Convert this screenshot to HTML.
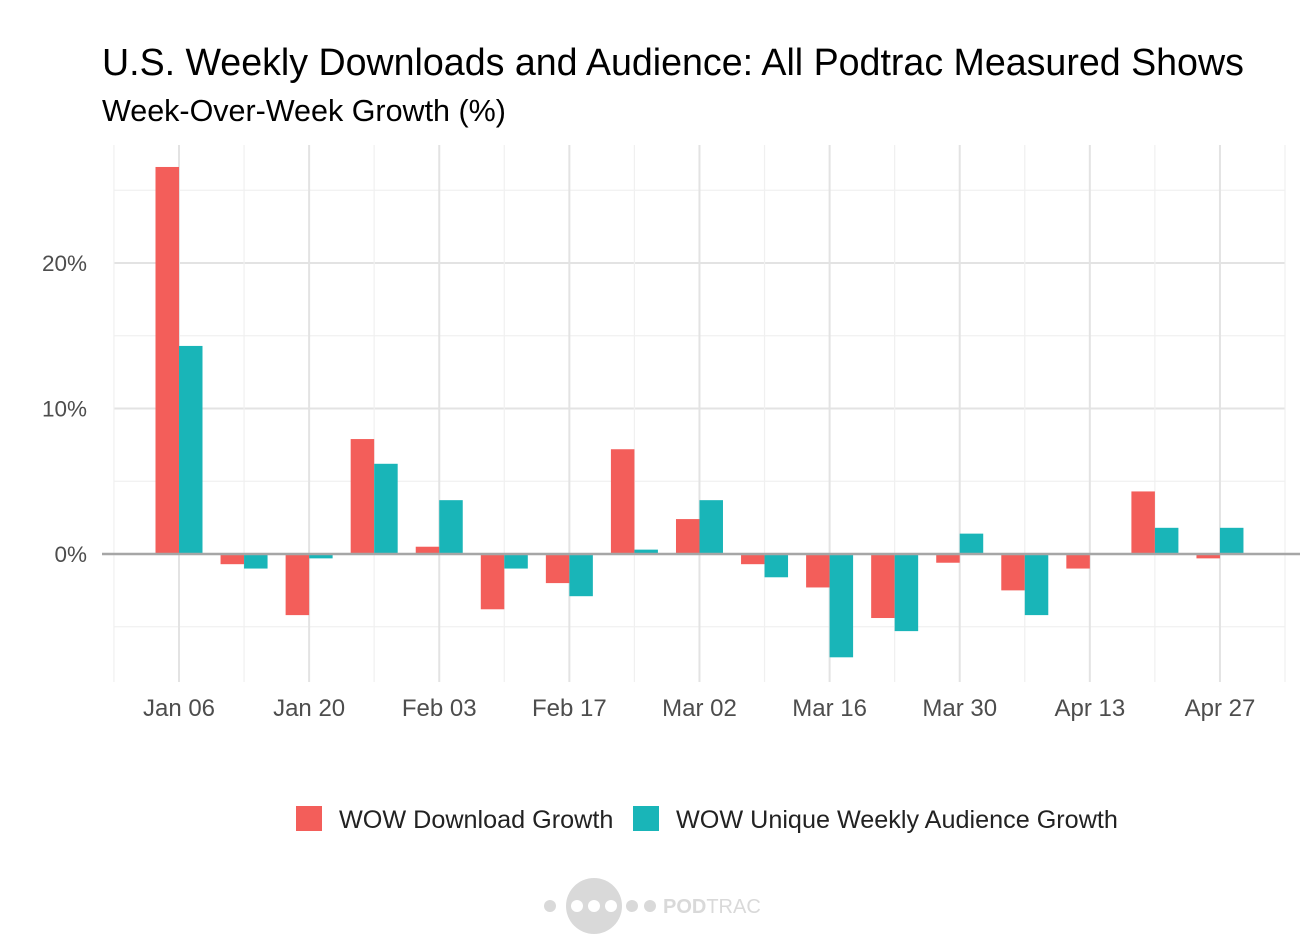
<!DOCTYPE html>
<html><head><meta charset="utf-8"><style>
body{margin:0;background:#fff;width:1300px;height:944px;overflow:hidden;font-family:"Liberation Sans",sans-serif}
</style></head><body>
<svg id="c" width="1300" height="944">
<text x="102" y="75" font-size="37.6" fill="#000">U.S. Weekly Downloads and Audience: All Podtrac Measured Shows</text>
<text x="102" y="121" font-size="30.5" fill="#000">Week-Over-Week Growth (%)</text>
<g id="grid"></g><g id="bars"></g><g id="axes"></g>
<g>
<rect x="296" y="806" width="26" height="25" fill="#f35e5a"/>
<text x="339" y="828" font-size="25.2" fill="#222">WOW Download Growth</text>
<rect x="633" y="806" width="26" height="25" fill="#19b5b8"/>
<text x="676" y="828" font-size="25.2" fill="#222">WOW Unique Weekly Audience Growth</text>
</g>
<g fill="#d9d9d9">
<circle cx="550" cy="906" r="6"/><circle cx="594" cy="906" r="28"/>
<circle cx="577" cy="906" r="6" fill="#fff"/><circle cx="594" cy="906" r="6" fill="#fff"/><circle cx="611" cy="906" r="6" fill="#fff"/>
<circle cx="632" cy="906" r="6"/><circle cx="650" cy="906" r="6"/>
<text x="663" y="913" font-size="20" font-weight="bold">POD<tspan font-weight="normal">TRAC</tspan></text>
</g>
</svg>
<script>
const weeks=["Jan 06","Jan 13","Jan 20","Jan 27","Feb 03","Feb 10","Feb 17","Feb 24","Mar 02","Mar 09","Mar 16","Mar 23","Mar 30","Apr 06","Apr 13","Apr 20","Apr 27"];
const downloadGrowth=[26.6,-0.7,-4.2,7.9,0.5,-3.8,-2.0,7.2,2.4,-0.7,-2.3,-4.4,-0.6,-2.5,-1.0,4.3,-0.3];
const audienceGrowth=[14.3,-1.0,-0.3,6.2,3.7,-1.0,-2.9,0.3,3.7,-1.6,-7.1,-5.3,1.4,-4.2,0.05,1.8,1.8];
const yTicks=[0,10,20];
const yMinor=[-5,5,15,25];
const NS="http://www.w3.org/2000/svg";
const L=114,R=1285,T=145,B=682;
const x=i=>179+i*65.06;
const y=v=>554-v*14.55;
function mk(tag,attrs,parent){const e=document.createElementNS(NS,tag);for(const k in attrs)e.setAttribute(k,attrs[k]);parent.appendChild(e);return e;}
const grid=document.getElementById('grid'),bars=document.getElementById('bars'),axes=document.getElementById('axes');
yMinor.forEach(v=>{const l=mk('line',{x1:L,x2:R,y1:y(v),y2:y(v),stroke:'#f0f0f0','stroke-width':1.2},grid);

});
yTicks.forEach(v=>{const l=mk('line',{x1:L,x2:R,y1:y(v),y2:y(v),stroke:'#e3e3e3','stroke-width':2},grid);


const t=mk('text',{x:87,y:y(v)+8,'font-size':22.5,fill:'#4d4d4d','text-anchor':'end'},axes);t.textContent=v+'%';

});
for(let i=-1;i<=weeks.length;i+=2){const l=mk('line',{x1:x(i),x2:x(i),y1:T,y2:B,stroke:'#f0f0f0','stroke-width':1.2},grid);

}
weeks.forEach((w,i)=>{if(i%2)return;const l=mk('line',{x1:x(i),x2:x(i),y1:T,y2:B,stroke:'#e3e3e3','stroke-width':2},grid);


const t=mk('text',{x:x(i),y:716,'font-size':24,fill:'#4d4d4d','text-anchor':'middle'},axes);t.textContent=w;

});
const bw=23.5;
weeks.forEach((w,i)=>{
 const d=downloadGrowth[i],a=audienceGrowth[i];
 const r1=mk('rect',{x:x(i)-bw,y:Math.min(y(d),y(0)),width:bw,height:Math.abs(y(d)-y(0)),fill:'#f35e5a'},bars);
 
 
 const r2=mk('rect',{x:x(i),y:Math.min(y(a),y(0)),width:bw,height:Math.abs(y(a)-y(0)),fill:'#19b5b8'},bars);
 
 
});
const z=mk('line',{x1:102,x2:1300,y1:y(0),y2:y(0),stroke:'#a6a6a6','stroke-width':2.5},axes);


</script>
</body></html>
